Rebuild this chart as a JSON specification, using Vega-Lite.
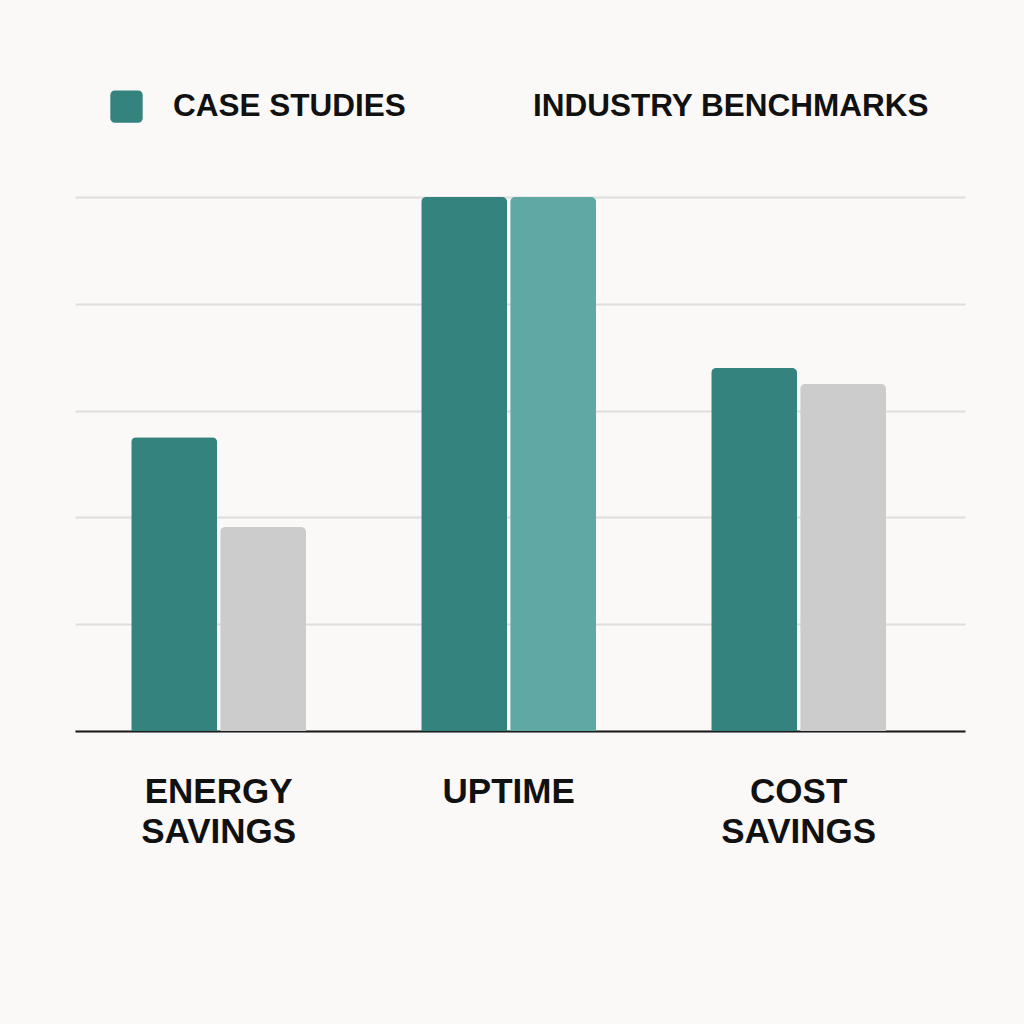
{
  "$schema": "https://vega.github.io/schema/vega-lite/v6.json",
  "width": 890,
  "height": 534,
  "autosize": {"type": "none"},
  "padding": {"left": 75, "top": 197, "right": 59, "bottom": 293},
  "background": "#FAF9F7",
  "config": {
    "view": {"stroke": null},
    "font": "Liberation Sans"
  },
  "data": {
    "values": [
      {"category": "ENERGY SAVINGS", "series": "Case Studies", "value": 55},
      {"category": "ENERGY SAVINGS", "series": "Industry Benchmarks", "value": 38.2},
      {"category": "UPTIME", "series": "Case Studies", "value": 100},
      {"category": "UPTIME", "series": "Industry Benchmarks", "value": 100},
      {"category": "COST SAVINGS", "series": "Case Studies", "value": 68},
      {"category": "COST SAVINGS", "series": "Industry Benchmarks", "value": 65}
    ]
  },
  "mark": {"type": "bar", "cornerRadiusTopLeft": 5, "cornerRadiusTopRight": 5},
  "encoding": {
    "x": {
      "field": "category",
      "type": "nominal",
      "sort": ["ENERGY SAVINGS", "UPTIME", "COST SAVINGS"],
      "scale": {"paddingInner": 0.397, "paddingOuter": 0.233, "align": 0.416},
      "axis": {
        "title": null,
        "ticks": false,
        "grid": false,
        "domainColor": "#1A1A1A",
        "domainWidth": 2,
        "labelAngle": 0,
        "labelFont": "Liberation Sans",
        "labelFontWeight": "bold",
        "labelFontSize": 35,
        "labelColor": "#111111",
        "labelLineHeight": 40,
        "labelPadding": 43,
        "labelExpr": "split(datum.label, ' ')"
      }
    },
    "xOffset": {
      "field": "series",
      "type": "nominal",
      "scale": {"paddingInner": 0.034, "paddingOuter": 0}
    },
    "y": {
      "field": "value",
      "type": "quantitative",
      "scale": {"domain": [0, 100], "nice": false},
      "axis": {
        "title": null,
        "labels": false,
        "ticks": false,
        "domain": false,
        "values": [0, 20, 40, 60, 80, 100],
        "gridColor": "#DEDEDE",
        "gridWidth": 2
      }
    },
    "color": {
      "condition": {
        "test": "datum.category === 'UPTIME' && datum.series === 'Industry Benchmarks'",
        "value": "#5FA8A3"
      },
      "field": "series",
      "type": "nominal",
      "scale": {
        "domain": ["Case Studies", "Industry Benchmarks"],
        "range": ["#35837F", "#CCCCCC"]
      },
      "legend": {
        "title": null,
        "orient": "none",
        "direction": "horizontal",
        "legendX": 35,
        "legendY": -107,
        "padding": 0,
        "symbolType": "M-0.72,-1H0.72A0.28,0.28 0 0 1 1,-0.72V0.72A0.28,0.28 0 0 1 0.72,1H-0.72A0.28,0.28 0 0 1 -1,0.72V-0.72A0.28,0.28 0 0 1 -0.72,-1Z",
        "symbolSize": 1050,
        "symbolStrokeWidth": 0,
        "labelOffset": 30,
        "columnPadding": 64,
        "labelFont": "Liberation Sans",
        "labelFontWeight": "bold",
        "labelFontSize": 31.5,
        "labelColor": "#111111",
        "labelLimit": 500,
        "labelExpr": "upper(datum.label)",
        "encode": {
          "symbols": {
            "update": {
              "opacity": {"signal": "datum.value === 'Industry Benchmarks' ? 0 : 1"}
            }
          }
        }
      }
    }
  }
}
